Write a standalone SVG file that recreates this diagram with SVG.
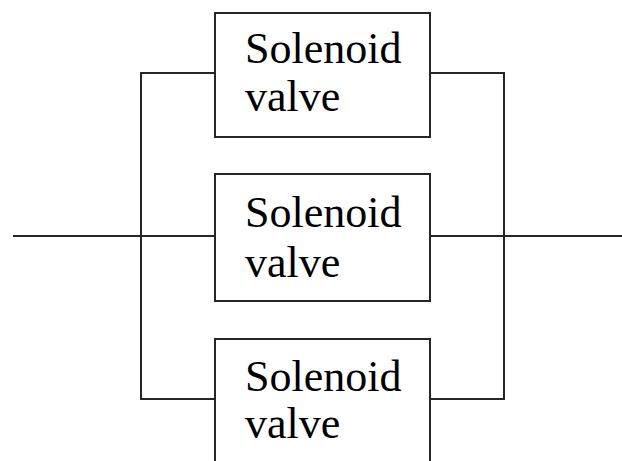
<svg xmlns="http://www.w3.org/2000/svg" width="622" height="461" viewBox="0 0 622 461">
  <style>
    .box { fill: #fff; stroke: #262626; stroke-width: 2; }
    .wire { fill: none; stroke: #262626; stroke-width: 2; }
    .lbl { font-family: "Liberation Serif", "Times New Roman", serif; font-size: 44px; fill: #000; }
  </style>
  <rect width="622" height="461" fill="#fff"/>
  <g id="connectors">
    <line class="wire" x1="13" y1="236" x2="622" y2="236"/>
    <polyline class="wire" points="215,73 141,73 141,399 215,399"/>
    <polyline class="wire" points="430,73 504,73 504,399 430,399"/>
  </g>
  <g id="valve1">
    <rect class="box" x="215" y="13" width="215" height="124"/>
    <text class="lbl" x="245" y="63">Solenoid</text>
    <text class="lbl" x="245" y="111">valve</text>
  </g>
  <g id="valve2">
    <rect class="box" x="215" y="174" width="215" height="127"/>
    <text class="lbl" x="245" y="227">Solenoid</text>
    <text class="lbl" x="245" y="277">valve</text>
  </g>
  <g id="valve3">
    <rect class="box" x="215" y="339" width="215" height="140"/>
    <text class="lbl" x="245" y="391">Solenoid</text>
    <text class="lbl" x="245" y="438">valve</text>
  </g>
</svg>
